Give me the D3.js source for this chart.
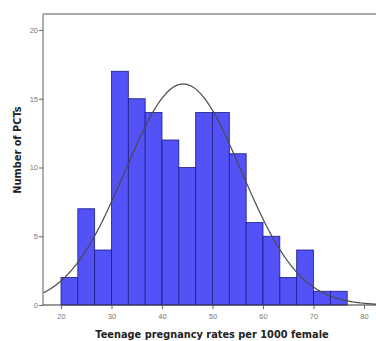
<!DOCTYPE html>
<html>
<head>
<meta charset="utf-8">
<script src="https://cdn.jsdelivr.net/npm/d3@7/dist/d3.min.js"></script>
<style>
  html, body { margin: 0; padding: 0; background: #fff; }
  svg { display: block; }
</style>
</head>
<body>
<svg id="chart" width="376" height="341"></svg>
<script>
// Histogram of teenage pregnancy rates with fitted normal curve
const binStart = [20, 23.333, 26.667, 30, 33.333, 36.667, 40, 43.333, 46.667, 50, 53.333, 56.667, 60, 63.333, 66.667, 70, 73.333];
const binCounts = [2, 7, 4, 17, 15, 14, 12, 10, 14, 14, 11, 6, 5, 2, 4, 1, 1];
const binWidth = 10 / 3;
const xTicks = [20, 30, 40, 50, 60, 70, 80];
const yTicks = [0, 5, 10, 15, 20];
const curveMean = 44.2;
const curveSD = 11.5;

const svg = d3.select("#chart");
const x = d3.scaleLinear().domain([20, 80]).range([61, 364]);
const y = d3.scaleLinear().domain([0, 20]).range([305, 30]);
const plotLeft = 43, plotTop = 14, plotRight = 380, plotBottom = 305;

// frame
svg.append("line").attr("x1", plotLeft).attr("x2", plotRight).attr("y1", plotTop).attr("y2", plotTop)
  .attr("stroke", "#a8a8a8").attr("stroke-width", 2);

// bars
svg.append("g").selectAll("rect").data(binCounts).join("rect")
  .attr("x", (d, i) => x(binStart[i]))
  .attr("width", (d, i) => x(binStart[i] + binWidth) - x(binStart[i]))
  .attr("y", d => y(d))
  .attr("height", d => y(0) - y(d))
  .attr("fill", "#5252f6")
  .attr("stroke", "#1c1c8a")
  .attr("stroke-width", 0.8);

// normal curve
const total = d3.sum(binCounts);
const pdf = v => total * binWidth / (curveSD * Math.sqrt(2 * Math.PI)) *
  Math.exp(-0.5 * Math.pow((v - curveMean) / curveSD, 2));
const xs = d3.range(x.invert(plotLeft), x.invert(plotRight), 0.25);
svg.append("path")
  .datum(xs)
  .attr("d", d3.line().x(v => x(v)).y(v => y(pdf(v))))
  .attr("fill", "none")
  .attr("stroke", "#4a4a4a")
  .attr("stroke-width", 1.2);

// axes
const yAxis = svg.append("g").attr("transform", `translate(${plotLeft},0)`)
  .call(d3.axisLeft(y).tickValues(yTicks).tickSize(4).tickPadding(1));
yAxis.select(".domain").attr("d", `M0,${plotTop}V${plotBottom}`).attr("stroke", "#9a9a9a").attr("stroke-width", 1.6);

const xAxis = svg.append("g").attr("transform", `translate(0,${plotBottom})`)
  .call(d3.axisBottom(x).tickValues(xTicks).tickSize(4).tickPadding(5));
xAxis.select(".domain").attr("d", `M${plotLeft},0H${plotRight}`).attr("stroke", "#333").attr("stroke-width", 1.2);

svg.selectAll(".tick line").attr("stroke", "#666");
svg.selectAll(".tick text")
  .attr("font-family", "Arial, 'Liberation Sans', sans-serif")
  .attr("font-size", 7.5)
  .attr("fill", "#777");

// titles
svg.append("text")
  .attr("x", 212).attr("y", 338)
  .attr("text-anchor", "middle")
  .attr("font-family", "'DejaVu Sans', sans-serif")
  .attr("font-size", 9.8).attr("font-weight", "bold").attr("fill", "#222")
  .text("Teenage pregnancy rates per 1000 female");

svg.append("text")
  .attr("transform", "translate(21,150) rotate(-90)")
  .attr("text-anchor", "middle")
  .attr("font-family", "'DejaVu Sans', sans-serif")
  .attr("font-size", 9.8).attr("font-weight", "bold").attr("fill", "#222")
  .text("Number of PCTs");
</script>
</body>
</html>
